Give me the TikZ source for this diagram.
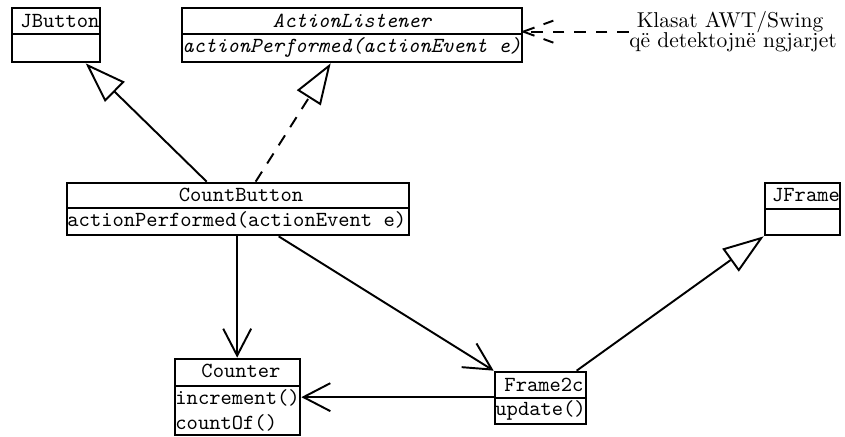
\documentclass[tikz,border=0pt]{standalone}
\usetikzlibrary{arrows.meta,calc,fit}
\begin{document}
\begin{tikzpicture}[x=0.465pt,y=-0.465pt,
  classbox/.style={draw,line width=1.25pt,inner sep=0pt},
  divider/.style={line width=0.7pt},
  cname/.style={font=\ttfamily,inner sep=0pt,anchor=base},
  member/.style={font=\ttfamily,inner sep=0pt,anchor=base west},
  iface/.style={font=\ttfamily\itshape},
  note/.style={font=\rmfamily,inner sep=0pt,anchor=base},
  link/.style={line width=0.9pt},
  dashline/.style={dash pattern=on 5.5pt off 4.5pt},
  inherit/.style={link,-{Triangle[open,length=19pt,width=13pt]}},
  assoc/.style={link,-{Straight Barb[length=12.5pt,width=13pt]}}]
\useasboundingbox (0,0) rectangle (845,437);

% JButton
\node[classbox,fit={(12,8) (100,62)}] (jb) {};
\draw[divider] (12,34) -- (100,34);
\node[cname] (jb-name) at (60,28) {JButton};

% ActionListener (interface)
\node[classbox,fit={(182,8) (522,62)}] (al) {};
\draw[divider] (182,34) -- (522,34);
\node[cname,iface] (al-name) at (352,28) {ActionListener};
\node[member,iface] (al-op) at (182,53) {actionPerformed(actionEvent e)};

% CountButton
\node[classbox,fit={(67,183) (409,235)}] (cb) {};
\draw[divider] (67,208) -- (409,208);
\node[cname] (cb-name) at (241,202) {CountButton};
\node[member] (cb-op) at (67,227) {actionPerformed(actionEvent e)};

% JFrame
\node[classbox,fit={(765,183) (840,235)}] (jf) {};
\draw[divider] (765,209) -- (840,209);
\node[cname] (jf-name) at (806,202) {JFrame};

% Counter
\node[classbox,fit={(175,359) (300,435)}] (ct) {};
\draw[divider] (175,386) -- (300,386);
\node[cname] (ct-name) at (241,377) {Counter};
\node[member] (ct-op1) at (175,405) {increment()};
\node[member] (ct-op2) at (175,429) {countOf()};

% Frame2c
\node[classbox,fit={(495,372) (586,424)}] (fc) {};
\draw[divider] (495,398) -- (586,398);
\node[cname] (fc-name) at (544,391) {Frame2c};
\node[member] (fc-op) at (495,415) {update()};

% Note
\node[note] (note1) at (730,28) {Klasat AWT/Swing};
\node[note] (note2) at (733,48) {që detektojnë ngjarjet};

% Generalisation and realisation
\draw[inherit] ($(cb.north west)+(141,0)$) -- ($(jb.south west)+(75,0)$);
\draw[inherit,dashline] ($(cb.north west)+(190,0)$) -- ($(al.south west)+(150,0)$);
\draw[inherit] ($(fc.north west)+(83,0)$) -- (jf.south west);

% Associations
\draw[assoc] ($(cb.south west)+(171.5,0)$) -- ($(ct.north west)+(63.5,0)$);
\draw[assoc] ($(cb.south west)+(213,0)$) -- (fc.north west);
\draw[assoc] ($(fc.north west)+(0,26.5)$) -- ($(ct.north east)+(0,39.5)$);

% Dashed pointer from the note, with dashed barbs
\coordinate (altip) at ($(al.north east)+(0,25)$);
\draw[link,dashline] (altip -| note2.west) -- (altip);
\draw[link,dashline] (altip) -- ++(30,-11);
\draw[link,dashline] (altip) -- ++(30,11);
\end{tikzpicture}
\end{document}
